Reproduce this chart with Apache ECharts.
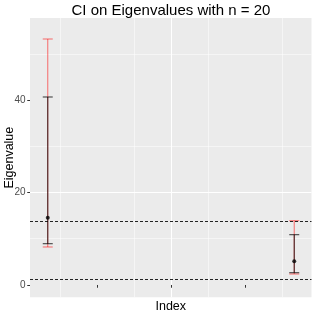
<!DOCTYPE html>
<html>
<head>
<meta charset="utf-8">
<script src="https://cdn.jsdelivr.net/npm/echarts@6/dist/echarts.min.js"></script>
<style>
html,body{margin:0;padding:0;background:#fff;}
#chart{width:315px;height:315px;}
</style>
</head>
<body>
<div id="chart"></div>
<script>
// ---- data ----
const titleText = 'CI on Eigenvalues with n = 20';
const xName = 'Index';
const yName = 'Eigenvalue';
const index = [1, 2];
const estimate = [14.55, 5.12];
const redLow = [8.22, 2.38];
const redHigh = [53.19, 13.9];
const blackLow = [8.93, 2.66];
const blackHigh = [40.65, 10.88];
const refLines = [13.84, 1.30];
const yTicks = [0, 20, 40];
const xTicks = [1.2, 1.5, 1.8];

const FONT = 'Liberation Sans, Arial, Helvetica, sans-serif';

function errRender(color, width) {
  return function (params, api) {
    const x = api.value(0), lo = api.value(1), hi = api.value(2);
    const t = api.coord([x, hi]);
    const b = api.coord([x, lo]);
    const hw = 5;
    const style = { stroke: color, lineWidth: width, fill: null };
    return {
      type: 'group',
      children: [
        { type: 'line', shape: { x1: t[0] - hw, y1: t[1], x2: t[0] + hw, y2: t[1] }, style: style },
        { type: 'line', shape: { x1: t[0], y1: t[1], x2: b[0], y2: b[1] }, style: style },
        { type: 'line', shape: { x1: b[0] - hw, y1: b[1], x2: b[0] + hw, y2: b[1] }, style: style }
      ]
    };
  };
}

const chart = echarts.init(document.getElementById('chart'), null, { renderer: 'canvas' });
chart.setOption({
  animation: false,
  backgroundColor: '#ffffff',
  title: {
    text: titleText,
    left: 71.5,
    top: 3,
    padding: 0,
    textStyle: { fontFamily: FONT, fontSize: 15, fontWeight: 'normal', color: '#000' }
  },
  grid: {
    left: 30, right: 3.5, top: 18, bottom: 17.7,
    outerBoundsMode: 'none',
    containLabel: false,
    show: true, backgroundColor: '#EBEBEB', borderWidth: 0
  },
  xAxis: {
    type: 'value',
    min: 0.928, max: 2.07,
    splitNumber: 4,
    name: xName,
    nameLocation: 'middle',
    nameGap: 3,
    nameMoveOverlap: false,
    nameTextStyle: { fontFamily: FONT, fontSize: 12.5, color: '#000', verticalAlign: 'top' },
    axisLine: { show: false },
    axisTick: { show: true, length: 2.75, lineStyle: { color: '#333', width: 1 }, customValues: xTicks },
    axisLabel: { show: false },
    splitLine: { show: true, showMinLine: false, showMaxLine: false, lineStyle: { color: '#fff', width: 1.07 } },
    minorTick: { show: false, splitNumber: 2 },
    minorSplitLine: { show: true, lineStyle: { color: '#fff', width: 0.53 } }
  },
  yAxis: {
    type: 'value',
    min: -2.66, max: 57.73,
    splitNumber: 3,
    name: yName,
    nameLocation: 'middle',
    nameGap: 14,
    nameMoveOverlap: false,
    nameTextStyle: { fontFamily: FONT, fontSize: 12.5, color: '#000' },
    axisLine: { show: false },
    axisTick: { show: true, length: 2.75, lineStyle: { color: '#333', width: 1 }, customValues: yTicks },
    axisLabel: { show: true, margin: 4.5, fontFamily: FONT, fontSize: 10, color: '#4D4D4D', customValues: yTicks },
    splitLine: { show: true, showMinLine: false, showMaxLine: false, lineStyle: { color: '#fff', width: 1.07 } },
    minorTick: { show: false, splitNumber: 2 },
    minorSplitLine: { show: true, lineStyle: { color: '#fff', width: 0.53 } }
  },
  series: [
    {
      type: 'custom',
      renderItem: errRender('rgba(255,0,0,0.5)', 1.1),
      data: index.map((x, i) => [x, redLow[i], redHigh[i]]),
      encode: { x: 0, y: [1, 2] },
      silent: true
    },
    {
      type: 'custom',
      renderItem: errRender('rgba(0,0,0,0.72)', 1.1),
      data: index.map((x, i) => [x, blackLow[i], blackHigh[i]]),
      encode: { x: 0, y: [1, 2] },
      silent: true
    },
    {
      type: 'scatter',
      symbol: 'circle',
      symbolSize: 4,
      itemStyle: { color: '#000' },
      data: index.map((x, i) => [x, estimate[i]]),
      silent: true,
      markLine: {
        silent: true,
        symbol: 'none',
        label: { show: false },
        lineStyle: { color: '#000', width: 1, type: [3, 2], opacity: 0.85 },
        data: refLines.map(v => ({ yAxis: v }))
      }
    }
  ]
});
</script>
</body>
</html>
